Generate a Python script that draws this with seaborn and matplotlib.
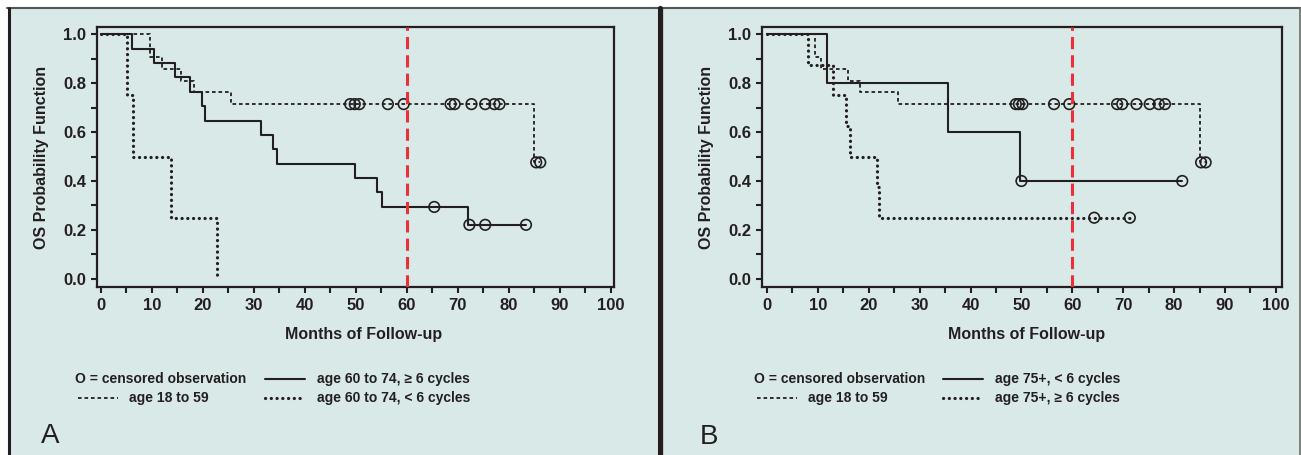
import matplotlib
matplotlib.use("Agg")
import matplotlib.pyplot as plt
from matplotlib.patches import Rectangle
from matplotlib.lines import Line2D
import seaborn as sns
import pandas as pd
import numpy as np

# ---- data ----
# panel A
a_young_t = [0, 9.6, 11.9, 15.7, 18.2, 25.6, 85.0, 86.2]
a_young_s = [1.0, 0.905, 0.857, 0.810, 0.762, 0.714, 0.476, 0.476]
a_young_cens_t = [48.9, 49.8, 50.7, 56.3, 59.4, 68.6, 69.4, 72.7, 75.4, 77.2, 78.2, 85.4, 86.2]
a_young_cens_s = [0.714] * 11 + [0.476, 0.476]

a_hi_t = [0, 6.0, 10.4, 14.5, 17.5, 19.8, 20.5, 31.4, 33.7, 34.6, 49.9, 54.2, 55.2, 72.1, 83.4]
a_hi_s = [1.0, 0.941, 0.882, 0.824, 0.765, 0.706, 0.647, 0.588, 0.529, 0.471, 0.412, 0.353, 0.294, 0.221, 0.221]
a_hi_cens_t = [65.4, 72.3, 75.4, 83.4]
a_hi_cens_s = [0.294, 0.221, 0.221, 0.221]

a_lo_t = [0, 5.2, 6.2, 13.7, 22.8]
a_lo_s = [1.0, 0.75, 0.5, 0.25, 0.0]

# panel B
b_young_t = [0, 9.4, 10.7, 16.0, 18.3, 25.7, 85.0, 86.2]
b_young_s = [1.0, 0.905, 0.857, 0.810, 0.762, 0.714, 0.476, 0.476]
b_young_cens_t = [48.9, 49.5, 50.2, 56.4, 59.4, 68.8, 69.8, 72.6, 75.2, 77.0, 78.2, 85.3, 86.2]
b_young_cens_s = [0.714] * 11 + [0.476, 0.476]

b_lo_t = [0, 11.8, 35.6, 49.7, 81.6]
b_lo_s = [1.0, 0.8, 0.6, 0.4, 0.4]
b_lo_cens_t = [50.0, 81.6]
b_lo_cens_s = [0.4, 0.4]

b_hi_t = [0, 8.1, 13.0, 15.5, 16.4, 21.6, 22.0, 71.3]
b_hi_s = [1.0, 0.875, 0.75, 0.625, 0.5, 0.375, 0.25, 0.25]
b_hi_cens_t = [64.3, 71.3]
b_hi_cens_s = [0.25, 0.25]

x_ticks = list(range(0, 101, 10))
y_ticks = [0.0, 0.2, 0.4, 0.6, 0.8, 1.0]

legend_a = ["age 60 to 74, \u2265 6 cycles", "age 18 to 59", "age 60 to 74, < 6 cycles"]
legend_b = ["age 75+, < 6 cycles", "age 18 to 59", "age 75+, \u2265 6 cycles"]

sns.set_style("white")
plt.rcParams['font.family'] = ['Liberation Sans Narrow', 'Liberation Sans', 'DejaVu Sans']

BG = "#d8e9e8"
INK = "#231f20"
W, H = 1301, 455

solid = dict(color=INK, linewidth=1.5, linestyle="-")
dashed = dict(color=INK, linewidth=1.3, linestyle=(0, (2.0, 1.6)))
dotted = dict(color=INK, linewidth=2.3, linestyle=(0, (0.05, 1.75)), dash_capstyle="round")


def fx(px):
    return px / W


def fy(py):
    return 1 - py / H


def km(ax, t, s, style):
    df = pd.DataFrame({"t": t, "s": s})
    sns.lineplot(data=df, x="t", y="s", ax=ax, estimator=None, sort=False,
                 drawstyle="steps-post", **style)


def cens(ax, t, s):
    df = pd.DataFrame({"t": t, "s": s})
    sns.scatterplot(data=df, x="t", y="s", ax=ax, marker="o", s=58,
                    fc="none", ec=INK, linewidth=1.2, zorder=4)


def style_axes(ax, xlim):
    ax.set_facecolor(BG)
    ax.set_xlim(*xlim)
    ax.set_ylim(-0.033, 1.029)
    ax.set_xticks(x_ticks)
    ax.set_xticks(np.arange(5, 100, 10), minor=True)
    ax.set_yticks(y_ticks)
    ax.set_yticks([0.1, 0.3, 0.5, 0.7, 0.9], minor=True)
    ax.set_yticklabels([f"{v:.1f}" for v in y_ticks])
    for sp in ax.spines.values():
        sp.set_visible(True)
        sp.set_linewidth(1.6)
        sp.set_color(INK)
    ax.tick_params(which="both", direction="out", length=4, width=1.5, color=INK,
                   bottom=True, left=True, top=False, right=False)
    ax.tick_params(which="major", labelsize=12, pad=4, labelcolor=INK)
    for lab in ax.get_xticklabels() + ax.get_yticklabels():
        lab.set_fontweight("bold")
    ax.set_xlabel("")
    ax.set_ylabel("OS Probability Function", fontsize=11.5, fontweight="bold",
                  color=INK, labelpad=10)
    ax.axvline(60, color="#ee2f37", linewidth=2.2, linestyle=(0, (4, 2)), zorder=5)


fig = plt.figure(figsize=(W / 100, H / 100), dpi=100)
fig.patch.set_facecolor("white")

# panel backgrounds and frames
fig.add_artist(Rectangle((fx(8), 0), fx(657 - 8), fy(8), transform=fig.transFigure,
                         facecolor=BG, edgecolor="none", zorder=0))
fig.add_artist(Rectangle((fx(662), 0), fx(1299 - 662), fy(8), transform=fig.transFigure,
                         facecolor=BG, edgecolor="none", zorder=0))
fig.add_artist(Line2D([fx(7), fx(1300)], [fy(8), fy(8)], transform=fig.transFigure,
                      color="#555555", linewidth=1.5))
fig.add_artist(Line2D([fx(8.5), fx(8.5)], [0, fy(8)], transform=fig.transFigure,
                      color=INK, linewidth=2.2))
fig.add_artist(Line2D([fx(659.5), fx(659.5)], [0, fy(8)], transform=fig.transFigure,
                      color=INK, linewidth=3.8))
fig.add_artist(Line2D([fx(1299.5), fx(1299.5)], [0, fy(8)], transform=fig.transFigure,
                      color="#666666", linewidth=1.2))

axA = fig.add_axes([fx(97), fy(287), fx(614 - 97), (287 - 27) / H])
axB = fig.add_axes([fx(762), fy(287), fx(1282 - 762), (287 - 27) / H])

km(axA, a_young_t, a_young_s, dashed)
km(axA, a_hi_t, a_hi_s, solid)
km(axA, a_lo_t, a_lo_s, dotted)
cens(axA, a_young_cens_t, a_young_cens_s)
cens(axA, a_hi_cens_t, a_hi_cens_s)
style_axes(axA, (-0.78, 100.67))

km(axB, b_young_t, b_young_s, dashed)
km(axB, b_lo_t, b_lo_s, solid)
km(axB, b_hi_t, b_hi_s, dotted)
cens(axB, b_young_cens_t, b_young_cens_s)
cens(axB, b_lo_cens_t, b_lo_cens_s)
cens(axB, b_hi_cens_t, b_hi_cens_s)
style_axes(axB, (-0.98, 101.2))

# x labels
fig.text(fx(364), fy(334), "Months of Follow-up", ha="center", va="center",
         fontsize=11.5, fontweight="bold", color=INK)
fig.text(fx(1027), fy(334), "Months of Follow-up", ha="center", va="center",
         fontsize=11.5, fontweight="bold", color=INK)


def legend(x0, x1, labels):
    # x0: left of first column, x1: left of line sample in second column
    r1, r2 = fy(379), fy(398)
    kw = dict(fontsize=10, fontweight="bold", color=INK, va="center", ha="left")
    fig.text(fx(x0), r1, "O = censored observation", **kw)
    fig.add_artist(Line2D([fx(x1), fx(x1 + 40)], [r1, r1], transform=fig.transFigure, **solid))
    fig.text(fx(x1 + 52), r1, labels[0], **kw)
    fig.add_artist(Line2D([fx(x0 + 3), fx(x0 + 43)], [r2, r2], transform=fig.transFigure, **dashed))
    fig.text(fx(x0 + 54), r2, labels[1], **kw)
    fig.add_artist(Line2D([fx(x1), fx(x1 + 40)], [r2, r2], transform=fig.transFigure, **dotted))
    fig.text(fx(x1 + 52), r2, labels[2], **kw)


legend(75, 265, legend_a)
legend(754, 943, legend_b)

fig.text(fx(41), fy(436), "A", fontsize=20, family=["Liberation Sans", "DejaVu Sans"],
         color=INK, va="center", ha="left")
fig.text(fx(700), fy(437), "B", fontsize=20, family=["Liberation Sans", "DejaVu Sans"],
         color=INK, va="center", ha="left")

fig.savefig("out.png", dpi=100, facecolor=fig.get_facecolor())
